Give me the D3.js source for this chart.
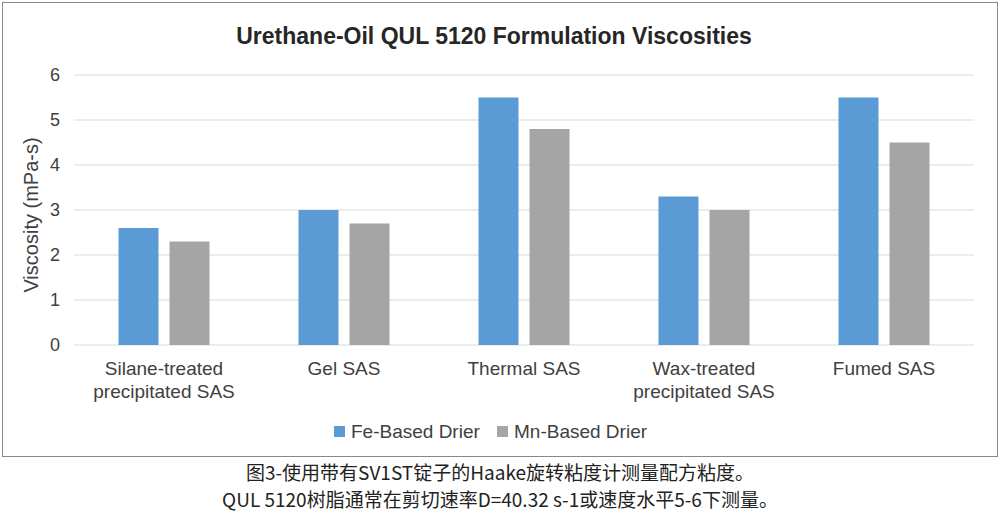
<!DOCTYPE html><html><head><meta charset="utf-8"><script src="https://cdn.jsdelivr.net/npm/d3@7"></script>
<style>body{margin:0;background:#fff}</style></head><body><svg id="c" width="1000" height="518"></svg><script>
const categories=[["Silane-treated","precipitated SAS"],["Gel SAS"],["Thermal SAS"],["Wax-treated","precipitated SAS"],["Fumed SAS"]];
const feValues=[2.6,3.0,5.5,3.3,5.5];
const mnValues=[2.3,2.7,4.8,3.0,4.5];
const seriesNames=["Fe-Based Drier","Mn-Based Drier"];
const yTicks=[0,1,2,3,4,5,6];
const colors=["#5b9bd5","#a5a5a5"];
const svg=d3.select("#c");
const F="Liberation Sans, Arial, sans-serif";
svg.append("rect").attr("x",2.5).attr("y",2.5).attr("width",995).attr("height",454).attr("fill","#fff").attr("stroke","#888");
const x=d3.scaleBand().domain(d3.range(5)).range([74,974]);
const y=d3.scaleLinear().domain([0,6]).range([345,75]);
svg.append("g").selectAll("line").data(yTicks).join("line").attr("x1",74).attr("x2",974).attr("y1",d=>y(d)).attr("y2",d=>y(d)).attr("stroke","#d9d9d9");
svg.append("g").selectAll("text").data(yTicks).join("text").attr("x",60).attr("y",d=>y(d)+6).attr("text-anchor","end").attr("font-family",F).attr("font-size",18).attr("fill","#404040").text(d=>d);
const bw=40,gap=11;
[feValues,mnValues].forEach((vals,s)=>{
 svg.append("g").selectAll("rect").data(vals).join("rect")
 .attr("x",(d,i)=>x(i)+x.bandwidth()/2-bw-gap/2+s*(bw+gap)).attr("width",bw)
 .attr("y",d=>y(d)).attr("height",d=>y(0)-y(d)).attr("fill",colors[s]);
});
categories.forEach((c,i)=>{
 const t=svg.append("text").attr("x",x(i)+x.bandwidth()/2).attr("text-anchor","middle").attr("font-family",F).attr("font-size",19).attr("fill","#404040");
 c.forEach((l,j)=>t.append("tspan").attr("x",x(i)+x.bandwidth()/2).attr("y",375+j*23).text(l));
});
svg.append("text").attr("x",494).attr("y",44).attr("text-anchor","middle").attr("font-family",F).attr("font-weight","bold").attr("font-size",23).attr("fill","#262626").text("Urethane-Oil QUL 5120 Formulation Viscosities");
svg.append("text").attr("transform","translate(38,215) rotate(-90)").attr("text-anchor","middle").attr("font-family",F).attr("font-size",20).attr("fill","#404040").text("Viscosity (mPa-s)");
const lx=[334,497];
seriesNames.forEach((n,i)=>{
 svg.append("rect").attr("x",lx[i]).attr("y",426).attr("width",11).attr("height",11).attr("fill",colors[i]);
 svg.append("text").attr("x",lx[i]+17).attr("y",438).attr("font-family",F).attr("font-size",19).attr("fill","#404040").text(n);
});
const CJK="Noto Sans CJK SC, sans-serif";
svg.append("text").attr("x",500).attr("y",480).attr("text-anchor","middle").attr("font-family",CJK).attr("font-size",19).attr("fill","#222").text("图3-使用带有SV1ST锭子的Haake旋转粘度计测量配方粘度。");
svg.append("text").attr("x",500).attr("y",507).attr("text-anchor","middle").attr("font-family",CJK).attr("font-size",19).attr("fill","#222").text("QUL 5120树脂通常在剪切速率D=40.32 s-1或速度水平5-6下测量。");
</script></body></html>
